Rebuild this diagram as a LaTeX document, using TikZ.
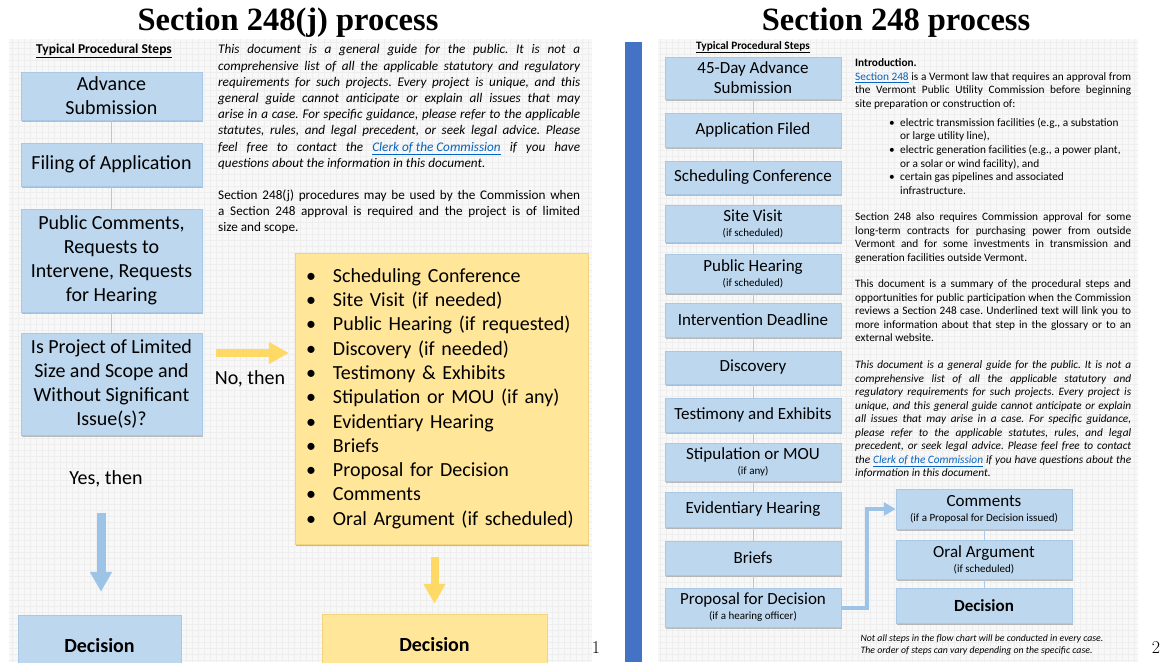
\documentclass[tikz,border=0pt]{standalone}
\usepackage{fontspec}
\setmainfont{Carlito}
\newfontfamily\titlefont{Liberation Serif}
\newfontfamily\numfont{Latin Modern Roman}
\usetikzlibrary{shadows,arrows.meta,calc}
\definecolor{boxblue}{HTML}{BDD7EE}
\definecolor{boxedge}{HTML}{A9C8E6}
\definecolor{linkline}{HTML}{A9CAE9}
\definecolor{arrowblue}{HTML}{9DC3E6}
\definecolor{boxyellow}{HTML}{FFE699}
\definecolor{yedge}{HTML}{F2D47C}
\definecolor{arrowyellow}{HTML}{FFD966}
\definecolor{barblue}{HTML}{4472C4}
\definecolor{linkblue}{HTML}{0563C1}
\definecolor{paper}{HTML}{F8F8F8}
\definecolor{gridline}{HTML}{EEEEEE}
\newcommand{\lnk}[1]{\textcolor{linkblue}{\underline{#1}}}
\newcommand{\sub}[1]{{\fontsize{11}{13}\selectfont #1}}
\newcommand{\bul}{\makebox[27pt][l]{•}}
\newcommand{\sbul}{\makebox[11pt][l]{•}}
\frenchspacing
\begin{document}
\begin{tikzpicture}[x=1pt,y=-1pt,
  shade box/.style={drop shadow={shadow xshift=0.8pt, shadow yshift=-2.2pt, opacity=0.35, fill=black!70}},
  lbox/.style={shade box, draw=boxedge, line width=0.5, fill=boxblue, align=center, inner sep=0,
    minimum width=181, font=\fontsize{20}{24}\selectfont},
  rbox/.style={shade box, draw=boxedge, line width=0.5, fill=boxblue, align=center, inner sep=0,
    minimum width=176, font=\fontsize{17}{20}\selectfont},
  ybox/.style={shade box, draw=yedge, line width=0.5, fill=boxyellow},
  link/.style={draw=linkline, line width=0.7},
  title/.style={font=\titlefont\bfseries\fontsize{32.5}{36}\selectfont, inner sep=0},
  heading/.style={inner sep=0},
  para/.style={anchor=north west, inner sep=0, align=justify},
  paper grid/.style={draw=gridline, line width=0.35, step=6pt},
  blockarrow/.style={line width=9, -{Triangle[length=20pt,width=21pt]}},
]
\useasboundingbox (0,0) rectangle (1163,662);
\clip (0,0) rectangle (1163,662);
\fill[white] (0,0) rectangle (1163,662);

% ---------------- left page: Section 248(j) ----------------
\node[title] (t1) at (288,23) {Section 248(j) process};
\fill[paper] (9,39) rectangle (592,662);
\draw[paper grid] (9,39) grid (592,662);

\node[heading, font=\bfseries\fontsize{13.5}{15}\selectfont] (h1) at (104,51) {\underline{Typical Procedural Steps}};

\node[lbox, minimum height=48] (a1) at (111.5,96) {Advance\\Submission};
\node[lbox, minimum height=43] (a2) at (111.5,164.5) {Filing of Application};
\node[lbox, minimum height=103] (a3) at (111.5,260.5) {Public Comments,\\Requests to\\Intervene, Requests\\for Hearing};
\node[lbox, minimum height=102] (a4) at (111.5,384) {Is Project of Limited\\Size and Scope and\\Without Significant\\Issue(s)?};
\draw[link] (a1) -- (a2);
\draw[link] (a2) -- (a3);
\draw[link] (a3) -- (a4);

\node[para, text width=362, font=\itshape\fontsize{13.2}{16.2}\selectfont] (p1) at (218,44.5)
{This document is a general guide for the public. It is not a\linebreak
comprehensive list of all the applicable statutory and regulatory\linebreak
requirements for such projects. Every project is unique, and this\linebreak
general guide cannot anticipate or explain all issues that may\linebreak
arise in a case. For specific guidance, please refer to the applicable\linebreak
statutes, rules, and legal precedent, or seek legal advice. Please\linebreak
feel free to contact the \lnk{Clerk of the Commission} if you have\linebreak
questions about the information in this document.};
\node[para, text width=362, font=\fontsize{13.2}{16.2}\selectfont] (p2) at (218,189.5)
{Section 248(j) procedures may be used by the Commission when\linebreak
a Section 248 approval is required and the project is of limited\linebreak
size and scope.};

\node[ybox, minimum width=293, minimum height=291, text width=271, inner xsep=11, inner ysep=0,
  align=left, font=\fontsize{20}{24.3}\selectfont] (list) at (441.5,398.5)
{\bul Scheduling Conference\\
\bul Site Visit (if needed)\\
\bul Public Hearing (if requested)\\
\bul Discovery (if needed)\\
\bul Testimony \& Exhibits\\
\bul Stipulation or MOU (if any)\\
\bul Evidentiary Hearing\\
\bul Briefs\\
\bul Proposal for Decision\\
\bul Comments\\
\bul Oral Argument (if scheduled)};

\node[font=\fontsize{20}{24}\selectfont, inner sep=0] (no) at (250,379) {No, then};
\node[font=\fontsize{20}{24}\selectfont, inner sep=0] (yes) at (106,479) {Yes, then};

\node[lbox, minimum width=163, minimum height=61, font=\bfseries\fontsize{20}{24}\selectfont] (d1) at (99.5,645.5) {Decision};
\node[ybox, minimum width=225, minimum height=62, inner sep=0, font=\bfseries\fontsize{20}{24}\selectfont] (d2) at (434.5,645) {Decision};

\draw[blockarrow, draw=arrowyellow, line width=8] ($(a4.east)+(14,-31)$) -- ($(list.west)+(-6,-45.5)$);
\draw[blockarrow, draw=arrowblue] ($(d1.north)+(1.5,-102)$) -- ($(d1.north)+(1.5,-23)$);
\draw[blockarrow, draw=arrowyellow, line width=8] ($(d2.north)+(0,-57)$) -- ($(d2.north)+(0,-10)$);

\node[font=\numfont\fontsize{18}{20}\selectfont, inner sep=0] (n1) at (596,648) {1};

% ---------------- right page: Section 248 ----------------
\node[title] (t2) at (896,23) {Section 248 process};
\fill[barblue] (625,42) rectangle (642,662);
\fill[paper] (658,39) rectangle (1138,662);
\draw[paper grid] (658,39) grid (1138,662);

\node[heading, font=\bfseries\fontsize{11.3}{13}\selectfont] (h2) at (753,47) {\underline{Typical Procedural Steps}};

\node[rbox, minimum height=42] (b1) at (753,78) {45-Day Advance\\Submission};
\node[rbox, minimum height=34] (b2) at (753,130) {Application Filed};
\node[rbox, minimum height=33] (b3) at (753,177.5) {Scheduling Conference};
\node[rbox, minimum height=37] (b4) at (753,223.5) {Site Visit\\[-5pt]\sub{(if scheduled)}};
\node[rbox, minimum height=39] (b5) at (753,273.5) {Public Hearing\\[-5pt]\sub{(if scheduled)}};
\node[rbox, minimum height=34] (b6) at (753,320) {Intervention Deadline};
\node[rbox, minimum height=33] (b7) at (753,367.5) {Discovery};
\node[rbox, minimum height=34] (b8) at (753,415) {Testimony and Exhibits};
\node[rbox, minimum height=38] (b9) at (753,462) {Stipulation or MOU\\[-5pt]\sub{(if any)}};
\node[rbox, minimum height=35] (b10) at (753,509.5) {Evidentiary Hearing};
\node[rbox, minimum height=34] (b11) at (753,558) {Briefs};
\node[rbox, minimum height=39] (b12) at (753,607.5) {Proposal for Decision\\[-5pt]\sub{(if a hearing officer)}};

\node[rbox, minimum height=40] (c1) at (984,509) {Comments\\[-5pt]\sub{(if a Proposal for Decision issued)}};
\node[rbox, minimum height=39] (c2) at (984,559.5) {Oral Argument\\[-5pt]\sub{(if scheduled)}};
\node[rbox, minimum height=35, font=\bfseries\fontsize{17}{20}\selectfont] (c3) at (984,605.5) {Decision};

\foreach \u/\v in {b1/b2,b2/b3,b3/b4,b4/b5,b5/b6,b6/b7,b7/b8,b8/b9,b9/b10,b10/b11,b11/b12,c1/c2,c2/c3}
  \draw[link] (\u) -- (\v);
\draw[draw=arrowblue, line width=4, -{Triangle[length=12pt,width=13pt]}]
  (b12.east) -- ++(26,0) |- (c1.west);

\node[para, text width=276, font=\fontsize{11.3}{13.4}\selectfont] (q1) at (855,58.8)
{\textbf{Introduction.}\\
\lnk{Section 248} is a Vermont law that requires an approval from\linebreak
the Vermont Public Utility Commission before beginning\linebreak
site preparation or construction of:};
\node[anchor=north west, inner sep=0, align=left, font=\fontsize{11.3}{13.6}\selectfont] (q2) at (889,117.8)
{\sbul electric transmission facilities (e.g., a substation\\
\hspace*{11pt}or large utility line),\\
\sbul electric generation facilities (e.g., a power plant,\\
\hspace*{11pt}or a solar or wind facility), and\\
\sbul certain gas pipelines and associated\\
\hspace*{11pt}infrastructure.};
\node[para, text width=276, font=\fontsize{11.3}{13.4}\selectfont] (q3) at (855,212.8)
{Section 248 also requires Commission approval for some\linebreak
long-term contracts for purchasing power from outside\linebreak
Vermont and for some investments in transmission and\linebreak
generation facilities outside Vermont.};
\node[para, text width=276, font=\fontsize{11.3}{13.4}\selectfont] (q4) at (855,279.8)
{This document is a summary of the procedural steps and\linebreak
opportunities for public participation when the Commission\linebreak
reviews a Section 248 case. Underlined text will link you to\linebreak
more information about that step in the glossary or to an\linebreak
external website.};
\node[para, text width=276, font=\itshape\fontsize{11.3}{13.5}\selectfont] (q5) at (855,360.8)
{This document is a general guide for the public. It is not a\linebreak
comprehensive list of all the applicable statutory and\linebreak
regulatory requirements for such projects. Every project is\linebreak
unique, and this general guide cannot anticipate or explain\linebreak
all issues that may arise in a case. For specific guidance,\linebreak
please refer to the applicable statutes, rules, and legal\linebreak
precedent, or seek legal advice. Please feel free to contact\linebreak
the \lnk{Clerk of the Commission} if you have questions about the\linebreak
information in this document.};

\node[anchor=north, inner sep=0, align=left, font=\itshape\fontsize{9.8}{12}\selectfont] (fn) at (982,634)
{Not all steps in the flow chart will be conducted in every case.\\
The order of steps can vary depending on the specific case.};

\node[font=\numfont\fontsize{18}{20}\selectfont, inner sep=0] (n2) at (1156,648) {2};
\end{tikzpicture}
\end{document}
